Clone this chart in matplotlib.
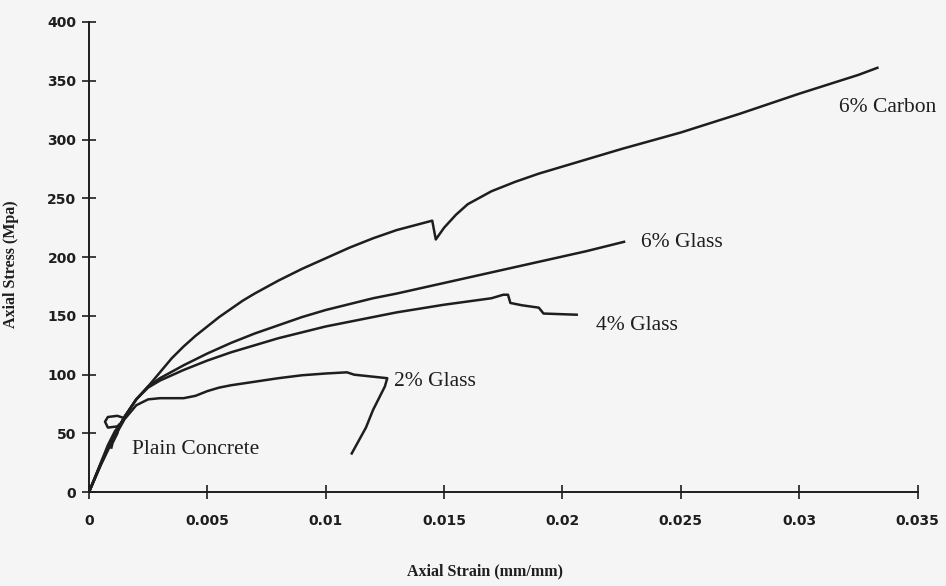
import matplotlib.pyplot as plt

# stress-strain curves (strain mm/mm, stress MPa)
carbon_x = [0, 0.0005, 0.001, 0.0015, 0.002, 0.0025, 0.003, 0.0035, 0.004,
            0.0045, 0.005, 0.0055, 0.006, 0.0065, 0.007, 0.008, 0.009, 0.010,
            0.011, 0.012, 0.013, 0.0145, 0.01465, 0.015, 0.0155, 0.016, 0.017,
            0.018, 0.019, 0.020, 0.0225, 0.025, 0.0275, 0.030, 0.0325, 0.0333]
carbon_y = [0, 24, 46, 64, 79, 90, 102, 114, 124, 133, 141, 149, 156, 163, 169,
            180, 190, 199, 208, 216, 223, 231, 215, 225, 236, 245, 256, 264,
            271, 277, 292, 306, 322, 339, 355, 361]

glass6_x = [0, 0.0005, 0.001, 0.0015, 0.002, 0.0025, 0.003, 0.004, 0.005, 0.006,
            0.007, 0.008, 0.009, 0.010, 0.011, 0.012, 0.013, 0.015, 0.017, 0.019,
            0.021, 0.0226]
glass6_y = [0, 24, 46, 64, 79, 90, 97, 108, 118, 127, 135, 142, 149, 155, 160,
            165, 169, 178, 187, 196, 205, 213]

glass4_x = [0, 0.0005, 0.001, 0.0015, 0.002, 0.0025, 0.003, 0.004, 0.005, 0.006,
            0.007, 0.008, 0.009, 0.010, 0.011, 0.012, 0.013, 0.015, 0.017, 0.0175,
            0.0177, 0.0178, 0.0183, 0.0190, 0.0192, 0.0206]
glass4_y = [0, 24, 46, 64, 79, 89, 95, 104, 112, 119, 125, 131, 136, 141, 145,
            149, 153, 159.5, 165, 168, 168, 161, 159, 157, 152, 151]

glass2_x = [0, 0.0005, 0.001, 0.0015, 0.002, 0.0025, 0.003, 0.004, 0.0045,
            0.005, 0.0055, 0.006, 0.007, 0.008, 0.009, 0.010, 0.0109, 0.0112,
            0.0126, 0.0125, 0.012, 0.0117, 0.0111]
glass2_y = [0, 23, 44, 62, 74, 79, 80, 80, 82, 86, 89, 91, 94, 97, 99.5, 101,
            102, 100, 97, 90, 70, 55, 33]

plain_x = [0, 0.0004, 0.0008, 0.0011, 0.0014, 0.0015, 0.0012, 0.0008, 0.00068,
           0.0008, 0.0012, 0.0013, 0.0012, 0.0010, 0.00095]
plain_y = [0, 20, 40, 52, 60, 63, 65, 64, 60, 55, 56, 58, 50, 42, 38]

labels = ["6% Carbon", "6% Glass", "4% Glass", "2% Glass", "Plain Concrete"]
label_x = [0.0317, 0.0233, 0.0214, 0.0129, 0.00182]
label_y = [327, 212, 142, 94, 36]

x_ticks = [0, 0.005, 0.01, 0.015, 0.02, 0.025, 0.03, 0.035]
x_tick_labels = ["0", "0.005", "0.01", "0.015", "0.02", "0.025", "0.03", "0.035"]
y_ticks = [0, 50, 100, 150, 200, 250, 300, 350, 400]

fig = plt.figure(figsize=(9.46, 5.86), dpi=100, facecolor="#f5f5f5")
ax = fig.add_axes([0.094, 0.160, 0.876, 0.8025])
ax.set_facecolor("#f5f5f5")

ink = "#1e1e1e"
for xs, ys in [(carbon_x, carbon_y), (glass6_x, glass6_y), (glass4_x, glass4_y),
               (glass2_x, glass2_y), (plain_x, plain_y)]:
    ax.plot(xs, ys, color=ink, linewidth=1.8)

for txt, lx, ly in zip(labels, label_x, label_y):
    ax.text(lx, ly, txt, fontsize=15.5, family="Liberation Serif", color=ink,
            va="center", ha="left")

ax.set_xlim(0, 0.035)
ax.set_ylim(0, 400)
ax.set_xticks(x_ticks)
ax.set_xticklabels(x_tick_labels)
ax.set_yticks(y_ticks)

for side in ["top", "right"]:
    ax.spines[side].set_visible(False)
for side in ["left", "bottom"]:
    ax.spines[side].set_color(ink)
    ax.spines[side].set_linewidth(1.4)

ax.tick_params(axis="both", direction="inout", length=10, width=1.2, color=ink,
               labelsize=10, labelcolor=ink)
ax.tick_params(axis="x", pad=11)
ax.tick_params(axis="y", pad=4)
for lab in ax.get_xticklabels() + ax.get_yticklabels():
    lab.set_fontfamily("DejaVu Sans")
    lab.set_fontweight("bold")

fig.text(0.513, 0.025, "Axial Strain (mm/mm)", fontsize=11.5, fontweight="bold",
         family="Liberation Serif", ha="center", va="center", color=ink)
fig.text(0.012, 0.55, "Axial Stress (Mpa)", fontsize=11.5, fontweight="bold",
         family="Liberation Serif", ha="center", va="center", rotation=90,
         color=ink)

fig.savefig("out.png", dpi=100, facecolor=fig.get_facecolor())
